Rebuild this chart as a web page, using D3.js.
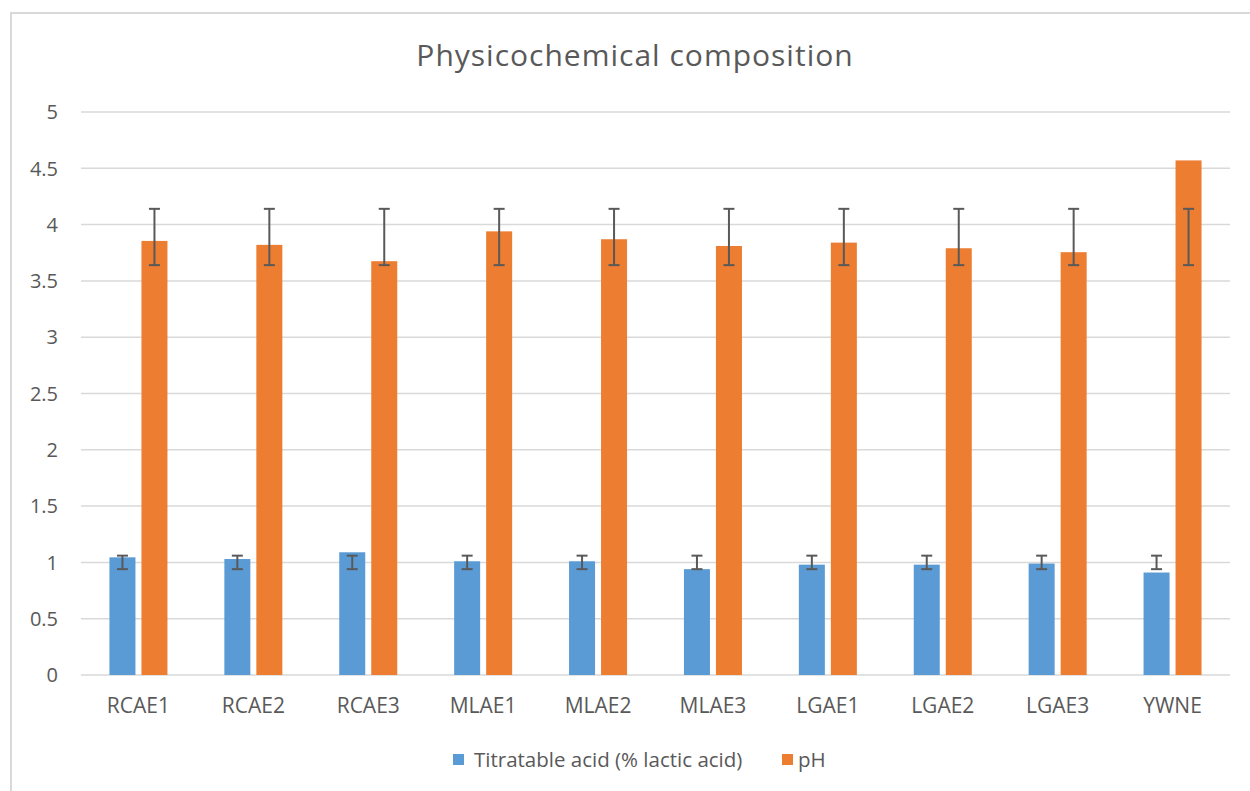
<!DOCTYPE html>
<html><head><meta charset="utf-8">
<script src="https://cdn.jsdelivr.net/npm/d3@7"></script>
<style>body{margin:0;background:#fff;}svg{display:block;font-family:"Open Sans",sans-serif;}</style>
</head><body><svg id="c" width="1250" height="791"></svg>
<script>
const categories = ["RCAE1","RCAE2","RCAE3","MLAE1","MLAE2","MLAE3","LGAE1","LGAE2","LGAE3","YWNE"];
const seriesNames = ["Titratable acid (% lactic acid)","pH"];
const acidValues = [1.045,1.03,1.09,1.01,1.01,0.94,0.98,0.98,0.99,0.91];
const phValues = [3.855,3.82,3.675,3.94,3.87,3.81,3.84,3.79,3.755,4.57];
const acidErrLow = [0.94,0.94,0.94,0.94,0.94,0.94,0.94,0.94,0.94,0.94];
const acidErrHigh = [1.06,1.06,1.06,1.06,1.06,1.06,1.06,1.06,1.06,1.06];
const phErrLow = [3.64,3.64,3.64,3.64,3.64,3.64,3.64,3.64,3.64,3.64];
const phErrHigh = [4.14,4.14,4.14,4.14,4.14,4.14,4.14,4.14,4.14,4.14];
const yTicks = [0,0.5,1,1.5,2,2.5,3,3.5,4,4.5,5];
const colors = ["#5B9BD5","#ED7D31"];

const svg = d3.select("#c");
const txt = "#595959";
// outer chart border
svg.append("path").attr("d","M11,791 V13 H1250").attr("fill","none").attr("stroke","#D9D9D9").attr("stroke-width",2);

const x = d3.scaleBand().domain(categories).range([81,1230]);
const y = d3.scaleLinear().domain([0,5]).range([675,112]);
const barW = 26, off = 16;

// gridlines
svg.append("g").selectAll("line").data(yTicks).join("line")
  .attr("x1",81).attr("x2",1230).attr("y1",d=>y(d)).attr("y2",d=>y(d))
  .attr("stroke","#D9D9D9").attr("stroke-width",1.5);

// y tick labels
svg.append("g").selectAll("text").data(yTicks).join("text")
  .attr("x",58).attr("y",d=>y(d)).attr("dy","0.36em").attr("text-anchor","end")
  .attr("fill",txt).attr("font-size",20).text(d=>d);

const series = [
  {vals:acidValues, lo:acidErrLow, hi:acidErrHigh, dx:-off, color:colors[0]},
  {vals:phValues, lo:phErrLow, hi:phErrHigh, dx:off, color:colors[1]}
];
series.forEach(s=>{
  const g = svg.append("g");
  g.selectAll("rect").data(categories).join("rect")
    .attr("x",(c)=>x(c)+x.bandwidth()/2+s.dx-barW/2)
    .attr("y",(c,i)=>y(s.vals[i]))
    .attr("width",barW)
    .attr("height",(c,i)=>y(0)-y(s.vals[i]))
    .attr("fill",s.color);
});
series.forEach(s=>{
  const g = svg.append("g").attr("stroke","#595959").attr("stroke-width",2);
  categories.forEach((c,i)=>{
    const cx = x(c)+x.bandwidth()/2+s.dx;
    g.append("line").attr("x1",cx).attr("x2",cx).attr("y1",y(s.lo[i])).attr("y2",y(s.hi[i]));
    g.append("line").attr("x1",cx-5.5).attr("x2",cx+5.5).attr("y1",y(s.lo[i])).attr("y2",y(s.lo[i]));
    g.append("line").attr("x1",cx-5.5).attr("x2",cx+5.5).attr("y1",y(s.hi[i])).attr("y2",y(s.hi[i]));
  });
});

// x axis labels
svg.append("g").selectAll("text").data(categories).join("text")
  .attr("x",c=>x(c)+x.bandwidth()/2).attr("y",713).attr("text-anchor","middle")
  .attr("fill",txt).attr("font-size",21).text(c=>c);

// title
svg.append("text").attr("x",635).attr("y",66).attr("text-anchor","middle")
  .attr("fill",txt).attr("font-size",30).attr("letter-spacing",1).text("Physicochemical composition");

// legend
const leg = svg.append("g");
const legPos = [{sx:453, tx:474},{sx:782, tx:798}];
seriesNames.forEach((n,i)=>{
  leg.append("rect").attr("x",legPos[i].sx).attr("y",754).attr("width",11).attr("height",11).attr("fill",colors[i]);
  leg.append("text").attr("x",legPos[i].tx).attr("y",767).attr("fill",txt).attr("font-size",20.5).text(n);
});
</script></body></html>
